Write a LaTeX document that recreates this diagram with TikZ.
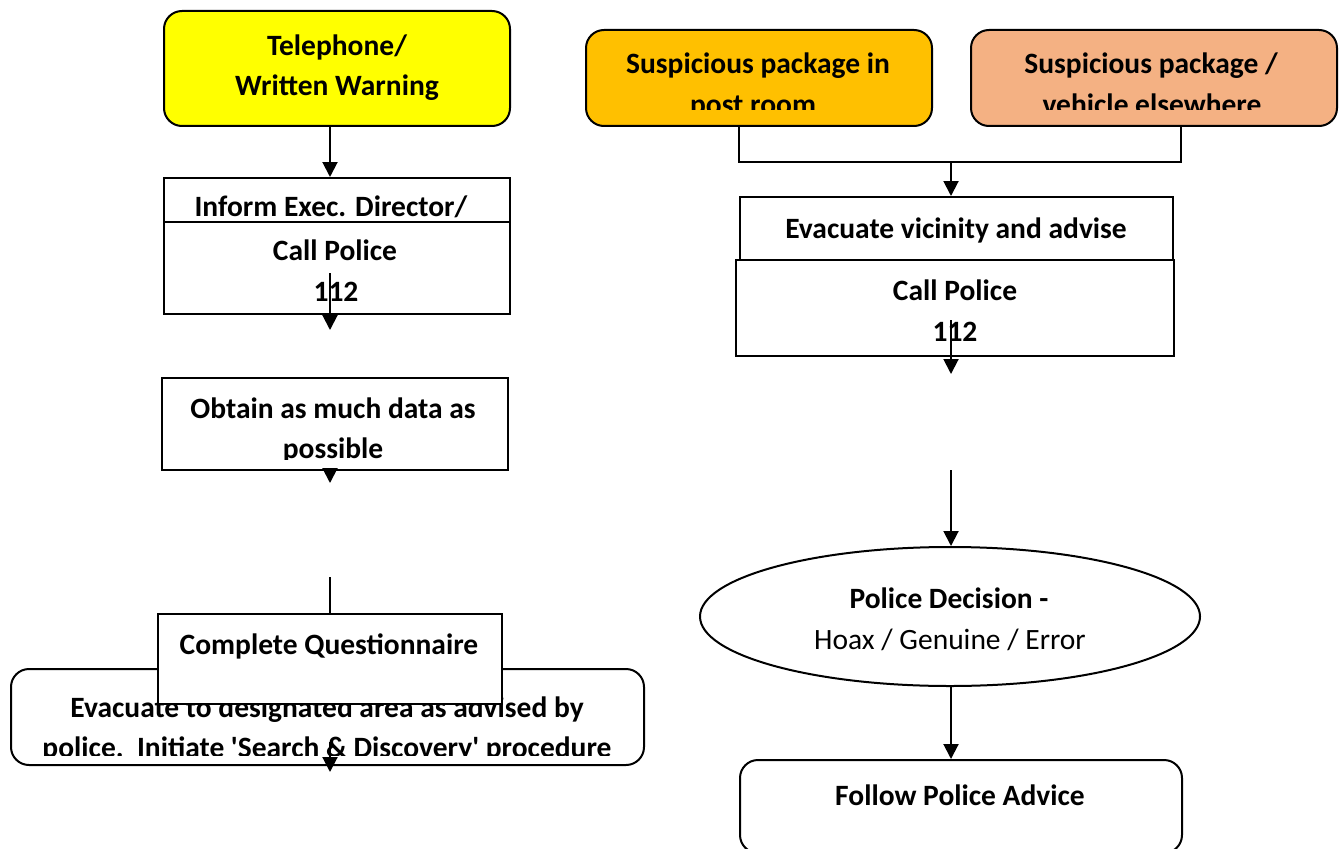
\documentclass[tikz,border=0pt]{standalone}
\usepackage{fontspec}
\setmainfont{Carlito}[Ligatures=TeXOff]
\usetikzlibrary{shapes.geometric,arrows.meta}
\definecolor{warnyellow}{HTML}{FFFF00}
\definecolor{postorange}{HTML}{FFC000}
\definecolor{elsesalmon}{HTML}{F4B183}

\tikzset{
  flowbox/.style={draw=black, line width=2pt, fill=white, inner sep=0pt, anchor=north west},
  roundbox/.style={flowbox, rounded corners=18pt},
  lbl/.style={inner sep=0pt, anchor=base, font=\fontsize{29.5}{34}\selectfont\bfseries},
  plainlbl/.style={inner sep=0pt, anchor=base, font=\fontsize{29.5}{34}\selectfont},
  flow/.style={line width=2pt, -{Triangle[width=15pt,length=15pt]}},
  link/.style={line width=2pt}
}

\begin{document}
\begin{tikzpicture}[x=1pt,y=-1pt]
\useasboundingbox[fill=white] (0,0) rectangle (1340,848);

% helper columns for the vertical connectors
\coordinate (colL) at (330,0);
\coordinate (colR) at (951,0);
\coordinate (pL) at (739,0);
\coordinate (pR) at (1181,0);

% ---------------- left column: telephone / written warning ----------------
\node[roundbox, fill=warnyellow, minimum width=346, minimum height=115] (tel) at (163,10) {};
\node[lbl] (tel1) at (337,56) {Telephone/};
\node[lbl] (tel2) at (337,96) {Written Warning};

\node[flowbox, minimum width=346, minimum height=120] (inform) at (163,177) {};
\node[lbl] (inform1) at (331,216) {Inform Exec. Director/};
\draw[flow] (tel.south -| colL) -- (inform.north -| colL);

\node[flowbox, minimum width=346, minimum height=92] (callL) at (163,221) {};
\node[lbl] (callL1) at (335,260) {Call Police};
\node[lbl] (callL2) at (336,301) {112};
\coordinate (cLtail) at (330,273);
\coordinate (cLtip) at (330,330);
\draw[flow] (cLtail) -- (cLtip);

\node[flowbox, minimum width=346, minimum height=92] (obtain) at (161,377) {};
\begin{scope}
  \clip (obtain.north west) rectangle (507,459);
  \node[lbl] (obtain1) at (333,418) {Obtain as much data as};
  \node[lbl] (obtain2) at (333,458) {possible};
\end{scope}
\coordinate (obTip) at (330,483);
\draw[flow] (obtain.south -| colL) -- (obTip);

\node[roundbox, minimum width=633, minimum height=96] (evacL) at (10,668) {};
\begin{scope}
  \clip (evacL.north west) rectangle (643,755);
  \node[lbl] (evacL1) at (327,717) {Evacuate to designated area as advised by};
  \node[lbl] (evacL2) at (327,757) {police.\ \ Initiate 'Search \& Discovery' procedure};
\end{scope}

\node[flowbox, minimum width=344, minimum height=90] (quest) at (157,613) {};
\node[lbl] (quest1) at (329,654) {Complete Questionnaire};
\coordinate (qTail) at (330,577);
\draw[link] (qTail) -- (qTail |- quest.north);

\coordinate (eTail) at (330,742);
\coordinate (eTip) at (330,772);
\draw[flow] (eTail) -- (eTip);

% ---------------- right column: suspicious package ----------------
\node[roundbox, fill=postorange, minimum width=346, minimum height=96] (post) at (585,29) {};
\begin{scope}
  \clip (post.north west) rectangle (931,110);
  \node[lbl] (post1) at (758,74) {Suspicious package in};
  \node[lbl] (post2) at (753,114) {post room};
\end{scope}

\node[roundbox, fill=elsesalmon, minimum width=366, minimum height=96] (elsewhere) at (970,29) {};
\begin{scope}
  \clip (elsewhere.north west) rectangle (1336,110);
  \node[lbl] (else1) at (1151,74) {Suspicious package /};
  \node[lbl] (else2) at (1152,114) {vehicle elsewhere};
\end{scope}

\coordinate (join) at (951,162);
\draw[link] (post.south -| pL) |- (join) -| (elsewhere.south -| pR);

\node[flowbox, minimum width=433, minimum height=117] (evacR) at (739,196) {};
\node[lbl] (evacR1) at (956,238) {Evacuate vicinity and advise};
\draw[flow] (join) -- (join |- evacR.north);

\node[flowbox, minimum width=438, minimum height=96] (callR) at (735,259) {};
\node[lbl] (callR1) at (955,300) {Call Police};
\node[lbl] (callR2) at (955,341) {112};
\coordinate (cRtail) at (951,320);
\coordinate (cRtip) at (951,374);
\draw[flow] (cRtail) -- (cRtip);

\node[draw, ellipse, line width=2pt, minimum width=500, minimum height=139, inner sep=0pt] (dec) at (950,616.5) {};
\node[lbl] (dec1) at (949,608) {Police Decision -};
\node[plainlbl] (dec2) at (950,649) {Hoax / Genuine / Error};
\coordinate (dTail) at (951,470);
\draw[flow] (dTail) -- (dTail |- dec.north);

\node[roundbox, minimum width=442, minimum height=93] (follow) at (739,759) {};
\node[lbl] (follow1) at (960,805) {Follow Police Advice};
\draw[flow] (dec.south -| colR) -- (follow.north -| colR);
\end{tikzpicture}
\end{document}
